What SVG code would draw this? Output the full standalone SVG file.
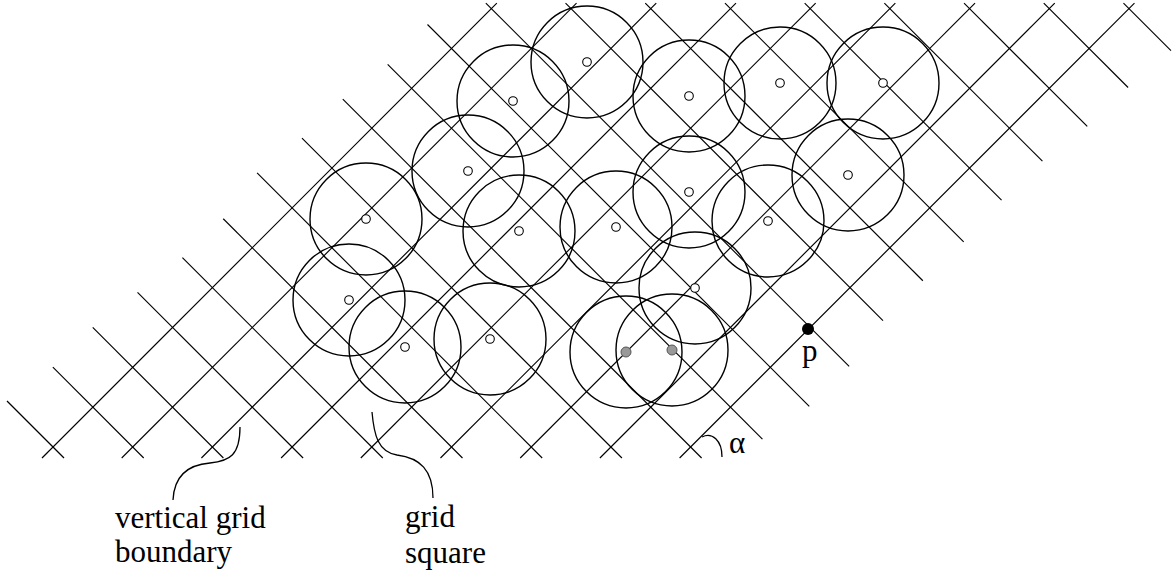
<svg xmlns="http://www.w3.org/2000/svg" width="1174" height="577" viewBox="0 0 1174 577">
<style>
.g line{stroke:#000;stroke-width:1.15;fill:none}
.c{fill:none;stroke:#000;stroke-width:1.4}
.m{fill:#fff;stroke:#000;stroke-width:1.1}
.gr{fill:#999;stroke:#555;stroke-width:1}
.lead{fill:none;stroke:#000;stroke-width:1.3}
text{font-family:"Liberation Serif","Times New Roman",serif;font-size:31px;fill:#000}
</style>
<rect width="1174" height="577" fill="#fff"/>
<g id="connectors" class="g">
<!-- up-right grid lines -->
<line x1="42" y1="458" x2="496.85" y2="3.15"/>
<line x1="121.7" y1="458" x2="576.55" y2="3.15"/>
<line x1="201.4" y1="458" x2="656.25" y2="3.15"/>
<line x1="281.1" y1="458" x2="735.95" y2="3.15"/>
<line x1="360.8" y1="458" x2="815.65" y2="3.15"/>
<line x1="440.5" y1="458" x2="895.35" y2="3.15"/>
<line x1="520.2" y1="458" x2="975.05" y2="3.15"/>
<line x1="599.9" y1="458" x2="1054.75" y2="3.15"/>
<line x1="679.6" y1="458" x2="1134.45" y2="3.15"/>
<!-- down-right grid lines -->
<line x1="7" y1="401" x2="64" y2="458"/>
<line x1="52.85" y1="367.15" x2="143.7" y2="458"/>
<line x1="92.7" y1="327.3" x2="223.4" y2="458"/>
<line x1="137.55" y1="292.45" x2="303.1" y2="458"/>
<line x1="182.4" y1="257.6" x2="382.8" y2="458"/>
<line x1="223.25" y1="218.75" x2="462.5" y2="458"/>
<line x1="257.1" y1="172.9" x2="542.2" y2="458"/>
<line x1="301.95" y1="138.05" x2="621.9" y2="458"/>
<line x1="342.8" y1="99.2" x2="701.6" y2="458"/>
<line x1="387.65" y1="64.35" x2="762.45" y2="439.15"/>
<line x1="427.5" y1="24.5" x2="809.3" y2="406.3"/>
<line x1="485.85" y1="3.15" x2="849.15" y2="366.45"/>
<line x1="565.55" y1="3.15" x2="883" y2="320.6"/>
<line x1="645.25" y1="3.15" x2="922.85" y2="280.75"/>
<line x1="724.95" y1="3.15" x2="963.7" y2="241.9"/>
<line x1="804.65" y1="3.15" x2="1001.55" y2="200.05"/>
<line x1="884.35" y1="3.15" x2="1042.4" y2="161.2"/>
<line x1="964.05" y1="3.15" x2="1087.25" y2="126.35"/>
<line x1="1043.75" y1="3.15" x2="1128.1" y2="87.5"/>
<line x1="1123.45" y1="3.15" x2="1170.95" y2="50.65"/>
</g>
<g id="circles">
<g id="c1"><circle class="c" cx="587" cy="62" r="56"/><circle class="m" cx="587" cy="62" r="4.3"/></g>
<g id="c2"><circle class="c" cx="513" cy="101" r="56"/><circle class="m" cx="513" cy="101" r="4.3"/></g>
<g id="c3"><circle class="c" cx="689" cy="96" r="56"/><circle class="m" cx="689" cy="96" r="4.3"/></g>
<g id="c4"><circle class="c" cx="780" cy="83" r="56"/><circle class="m" cx="780" cy="83" r="4.3"/></g>
<g id="c5"><circle class="c" cx="883" cy="83" r="56"/><circle class="m" cx="883" cy="83" r="4.3"/></g>
<g id="c6"><circle class="c" cx="468" cy="171" r="56"/><circle class="m" cx="468" cy="171" r="4.3"/></g>
<g id="c7"><circle class="c" cx="689" cy="192" r="56"/><circle class="m" cx="689" cy="192" r="4.3"/></g>
<g id="c8"><circle class="c" cx="848" cy="175" r="56"/><circle class="m" cx="848" cy="175" r="4.3"/></g>
<g id="c9"><circle class="c" cx="366" cy="219" r="56"/><circle class="m" cx="366" cy="219" r="4.3"/></g>
<g id="c10"><circle class="c" cx="519" cy="231" r="56"/><circle class="m" cx="519" cy="231" r="4.3"/></g>
<g id="c11"><circle class="c" cx="616" cy="227" r="56"/><circle class="m" cx="616" cy="227" r="4.3"/></g>
<g id="c12"><circle class="c" cx="768" cy="221" r="56"/><circle class="m" cx="768" cy="221" r="4.3"/></g>
<g id="c13"><circle class="c" cx="349" cy="300" r="56"/><circle class="m" cx="349" cy="300" r="4.3"/></g>
<g id="c14"><circle class="c" cx="695" cy="288" r="56"/><circle class="m" cx="695" cy="288" r="4.3"/></g>
<g id="c15"><circle class="c" cx="405" cy="347" r="56"/><circle class="m" cx="405" cy="347" r="4.3"/></g>
<g id="c16"><circle class="c" cx="490" cy="339" r="56"/><circle class="m" cx="490" cy="339" r="4.3"/></g>
<g id="c17"><circle class="c" cx="626" cy="352" r="56"/><circle class="gr" cx="626" cy="352" r="5"/></g>
<g id="c18"><circle class="c" cx="672" cy="350" r="56"/><circle class="gr" cx="672" cy="350" r="5"/></g>
</g>
<g id="point-p">
<circle cx="808" cy="329" r="6" fill="#000"/>
<text x="802" y="361" font-size="30">p</text>
</g>
<g id="alpha">
<path class="lead" d="M702 437 C712 432 722 440 722 457"/>
<text x="729" y="453" font-size="30">α</text>
</g>
<g id="label-boundary">
<path class="lead" d="M240 427 C240 455 230 461 210 463 C185 465 174 478 173 500"/>
<text x="115" y="528">vertical grid</text>
<text x="115" y="562">boundary</text>
</g>
<g id="label-square">
<path class="lead" d="M372 412 C374 435 378 452 397 455 C420 458 433 470 433 498"/>
<text x="405" y="527">grid</text>
<text x="405" y="563">square</text>
</g>
</svg>
